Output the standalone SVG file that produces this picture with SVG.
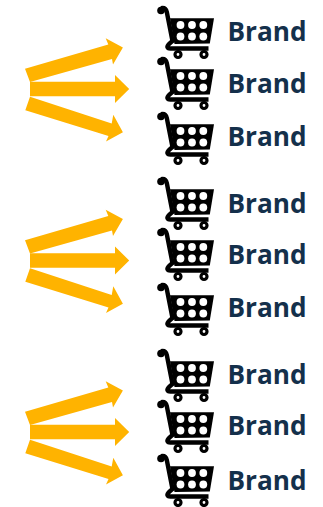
<svg xmlns="http://www.w3.org/2000/svg" xmlns:xlink="http://www.w3.org/1999/xlink" width="323" height="507" viewBox="0 0 323 507">
<style>
.brand{font-family:"Open Sans","Liberation Sans",sans-serif;font-weight:700;font-size:26.2px;fill:#14304b}
.arrow{fill:#ffb300}
</style>
<defs>
<g id="cart">
<circle cx="4" cy="4.5" r="3.8" fill="#000"/>
<path d="M4 2.2C7 1.6 9 2.6 9.8 6L15.5 35C9 40 9 42.5 13.5 42.5H51.5" fill="none" stroke="#000" stroke-width="4.4"/>
<polygon points="13,12.3 57,12.3 52.8,37.6 17.5,38" fill="#000"/>
<g fill="#fff">
<circle cx="23.5" cy="19" r="3.9"/><circle cx="35" cy="19" r="3.9"/><circle cx="46.3" cy="19" r="3.9"/>
<circle cx="23.5" cy="30.5" r="3.9"/><circle cx="35" cy="30.5" r="3.9"/><circle cx="46.3" cy="30.5" r="3.9"/>
</g>
<circle cx="21" cy="48.5" r="3" fill="#fff" stroke="#000" stroke-width="3.2"/>
<circle cx="47" cy="48.5" r="3" fill="#fff" stroke="#000" stroke-width="3.2"/>
</g>
<g id="fan">
<polygon class="arrow" points="25,68.7 108.3,44.6 105.7,38.3 122.9,47.5 113,64.5 112,59 30,82"/>
<polygon class="arrow" points="30,81.8 115,81.8 115,75 129.2,89 115,102.9 115,96.2 30,96.2"/>
<polygon class="arrow" points="30,96.7 111.7,123.6 113.3,114.8 122.9,132.3 106,141.5 108.5,135.9 25.3,110.3"/>
</g>
</defs>
<g id="connectors">
<use xlink:href="#fan"/>
<use xlink:href="#fan" y="171.5"/>
<use xlink:href="#fan" y="343"/>
</g>
<g id="node1"><use xlink:href="#cart" x="157" y="6"/><text class="brand" x="227.5" y="41">Brand</text></g>
<g id="node2"><use xlink:href="#cart" x="157" y="57"/><text class="brand" x="227.5" y="93">Brand</text></g>
<g id="node3"><use xlink:href="#cart" x="157" y="112"/><text class="brand" x="227.5" y="146">Brand</text></g>
<g id="node4"><use xlink:href="#cart" x="157" y="177"/><text class="brand" x="227.5" y="213">Brand</text></g>
<g id="node5"><use xlink:href="#cart" x="157" y="228"/><text class="brand" x="227.5" y="264">Brand</text></g>
<g id="node6"><use xlink:href="#cart" x="157" y="283"/><text class="brand" x="227.5" y="317">Brand</text></g>
<g id="node7"><use xlink:href="#cart" x="157" y="349"/><text class="brand" x="227.5" y="384">Brand</text></g>
<g id="node8"><use xlink:href="#cart" x="157" y="400"/><text class="brand" x="227.5" y="435">Brand</text></g>
<g id="node9"><use xlink:href="#cart" x="157" y="454"/><text class="brand" x="227.5" y="490">Brand</text></g>
</svg>
